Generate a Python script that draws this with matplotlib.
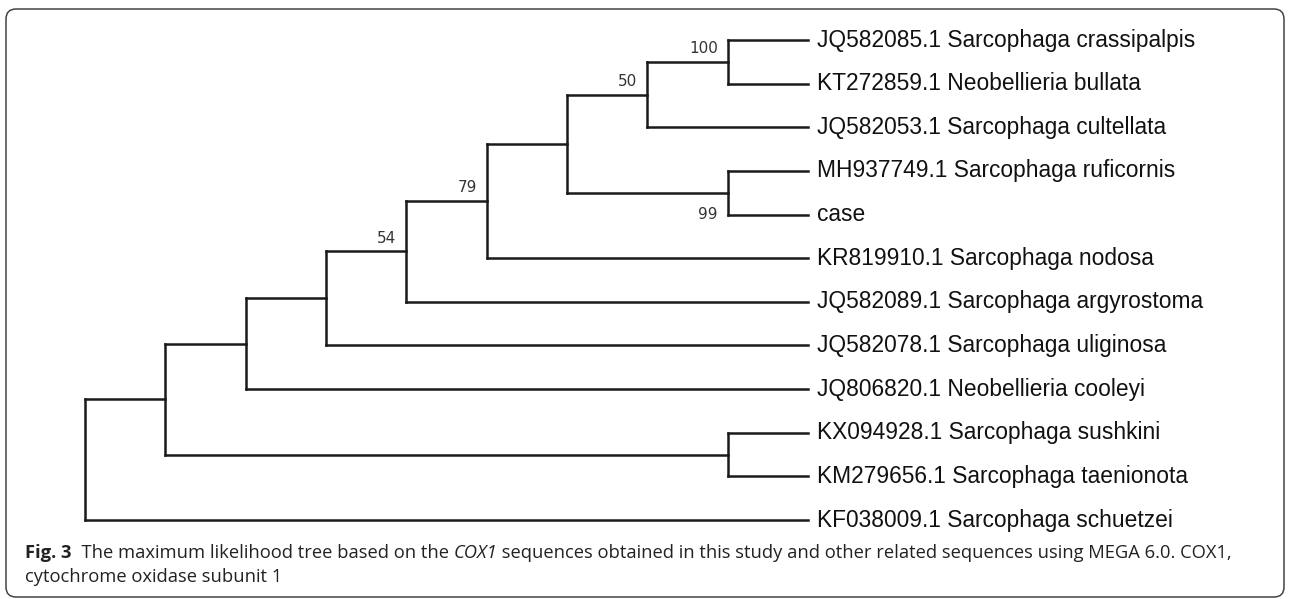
import matplotlib
matplotlib.use("Agg")
import matplotlib.pyplot as plt
from matplotlib.patches import FancyBboxPatch
from matplotlib.transforms import IdentityTransform

leaf_names = [
    "JQ582085.1 Sarcophaga crassipalpis",
    "KT272859.1 Neobellieria bullata",
    "JQ582053.1 Sarcophaga cultellata",
    "MH937749.1 Sarcophaga ruficornis",
    "case",
    "KR819910.1 Sarcophaga nodosa",
    "JQ582089.1 Sarcophaga argyrostoma",
    "JQ582078.1 Sarcophaga uliginosa",
    "JQ806820.1 Neobellieria cooleyi",
    "KX094928.1 Sarcophaga sushkini",
    "KM279656.1 Sarcophaga taenionota",
    "KF038009.1 Sarcophaga schuetzei",
]
# topology, leaves given as indices into leaf_names
tree = (((((((((0, 1), 2), (3, 4)), 5), 6), 7), 8), (9, 10)), 11)

support_clades = [(0, 1), (0, 1, 2), (3, 4), (0, 1, 2, 3, 4, 5), (0, 1, 2, 3, 4, 5, 6)]
support_values = [100, 50, 99, 79, 54]
support_below = [(3, 4)]

caption_line1 = [("Fig. 3", "normal", "bold"),
                 ("  The maximum likelihood tree based on the ", "normal", "normal"),
                 ("COX1", "italic", "normal"),
                 (" sequences obtained in this study and other related sequences using MEGA 6.0. COX1,",
                  "normal", "normal")]
caption_line2 = "cytochrome oxidase subunit 1"

W, H = 1290, 599
fig = plt.figure(figsize=(W / 100, H / 100), dpi=100)

line_kw = dict(color="#1a1a1a", lw=1.8, solid_capstyle="projecting", clip_on=False)


def height(node):
    if isinstance(node, int):
        return 0
    return 1 + max(height(c) for c in node)


def leaves_of(node):
    if isinstance(node, int):
        return [node]
    out = []
    for c in node:
        out += leaves_of(c)
    return out


n_levels = height(tree)
ax = fig.add_axes([85 / W, (H - 520) / H, (808 - 85) / W, (520 - 40) / H])
ax.set_xlim(0, n_levels)
ax.set_ylim(len(leaf_names) - 1, 0)
ax.axis("off")

node_pos = {}


def draw(node):
    if isinstance(node, int):
        return n_levels, node
    kids = [draw(c) for c in node]
    x = n_levels - height(node)
    ys = [k[1] for k in kids]
    y = sum(ys) / len(ys)
    for cx, cy in kids:
        ax.plot([x, cx], [cy, cy], **line_kw)
    ax.plot([x, x], [min(ys), max(ys)], **line_kw)
    node_pos[tuple(sorted(leaves_of(node)))] = (x, y)
    return x, y


draw(tree)

for i, name in enumerate(leaf_names):
    ax.annotate(name, (n_levels, i), xytext=(6.5, 0), textcoords="offset points",
                ha="left", va="center", fontsize=16.4, family="Liberation Sans",
                color="#111111", annotation_clip=False)

for clade, val in zip(support_clades, support_values):
    x, y = node_pos[tuple(clade)]
    dy = -15.8 if clade in support_below else 9.4
    ax.annotate(str(val), (x, y), xytext=(-7, dy), textcoords="offset points",
                ha="right", va="center", fontsize=11, color="#333333",
                annotation_clip=False)

# caption, pieces chained along one baseline
cap_font = "Open Sans"
cap_size = 13.2
txt, style, weight = caption_line1[0]
prev = fig.text(25 / W, (H - 558) / H, txt, fontsize=cap_size, family=cap_font,
                style=style, weight=weight, color="#222222", va="baseline")
for txt, style, weight in caption_line1[1:]:
    prev = ax.annotate(txt, xy=(1, 0), xycoords=prev, va="bottom", ha="left",
                       fontsize=cap_size, family=cap_font, style=style, weight=weight,
                       color="#222222", annotation_clip=False)
fig.text(25 / W, (H - 582) / H, caption_line2, fontsize=cap_size,
         family=cap_font, color="#222222", va="baseline")

border = FancyBboxPatch((6, 2), W - 12, 588, boxstyle="round,pad=0,rounding_size=10",
                        transform=IdentityTransform(), fill=False, ec="#444444", lw=1.1)
fig.patches.append(border)

fig.savefig("out.png", dpi=100)
